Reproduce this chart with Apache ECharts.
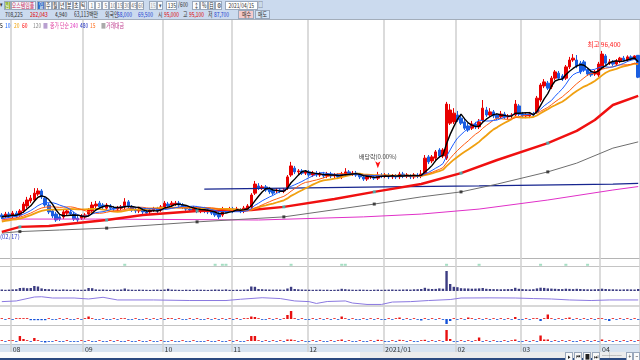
<!DOCTYPE html>
<html><head><meta charset="utf-8">
<script src="https://cdn.jsdelivr.net/npm/echarts@6/dist/echarts.min.js"></script>
<style>
html,body{margin:0;padding:0;background:#fff;}
#wrap{position:relative;width:640px;height:360px;overflow:hidden;font-family:"Noto Sans CJK KR","Noto Sans",sans-serif;}
#chart{position:absolute;left:0;top:0;width:640px;height:360px;z-index:2;}
.bg{position:absolute;z-index:1;}
.ov{position:absolute;z-index:3;font-size:7px;line-height:7px;white-space:nowrap;}
.ov span{display:inline-block;transform:scaleX(0.7);transform-origin:0 50%;}
.bx{box-sizing:border-box;height:9px;border:1px solid #9aa8bc;display:flex;justify-content:center;align-items:center;}
.bx span{transform-origin:50% 50%;}
</style></head>
<body><div id="wrap">
<div class="bg" style="left:0;top:344px;width:640px;height:8px;background:#d9e4f1;border-top:1px solid #b9c5d3;box-sizing:border-box;"></div>
<div class="bg" style="left:0;top:352px;width:640px;height:6px;background:#ececec;"></div>
<div class="bg" style="left:0;top:352px;width:360px;height:6px;background:#fbfbfb;"></div>
<div class="bg" style="left:0;top:358px;width:640px;height:2px;background:#2c4a80;"></div>
<div class="ov" style="left:0;top:0;width:640px;height:19px;background:#cbdaee;border-bottom:1px solid #a3adba;"></div>
<div id="chart"></div>
</div>
<script>
// ---------- DATA ----------
const monthStarts = [3, 23, 45, 64, 85, 106, 126, 144, 166];
const monthLabels = ['08', '09', '10', '11', '12', '2021/01', '02', '03', '04'];
const priorCloses = [40200,40500,40100,40800,41000,40700,41200,41500,41300,41800,42000,41700,42300,42600,42400,43000,43300,43100,43600];
// [open, close, low, high]
const candles = [
[43900,43300,42600,44500],[43600,44200,42900,44900],[44200,43600,42900,44900],[43600,44500,42900,45200],[44500,43600,42900,45200],
[43900,45200,43300,45800],[45200,47400,44500,48100],[46800,48700,46100,49700],[48400,49300,47700,50300],[48700,50900,48100,52500],
[50600,51600,50000,52500],[51600,49700,49000,52200],[49300,47100,46500,50000],[47100,44900,44200,47700],[45200,43600,42900,45800],
[44200,42300,41700,44900],[43300,42600,42000,43900],[43300,44900,42600,45500],[44500,45200,43900,45800],[44900,44200,43600,45500],
[44200,42600,42000,44900],[42900,42300,41700,43600],[42900,43600,42300,44200],[43300,43900,42600,44500],[44200,45500,43600,46100],
[45200,47100,44500,48100],[46800,47400,46100,48400],[47700,46500,45800,48400],[47100,46500,45800,47700],[46100,47100,45500,47700],
[46800,46100,45500,47400],[46100,45800,45200,46800],[45800,46100,45200,46800],[46100,46500,45500,47100],[46500,48100,45800,49300],
[48100,46800,46100,48700],[46500,45500,44900,47100],[45800,45200,44500,46500],[45200,45800,44500,46500],[45500,44900,44200,46100],
[44900,44500,43900,45500],[44900,45500,44200,46100],[45500,45800,44900,46500],[45800,45200,44500,46500],[45500,46500,44900,47100],
[46500,47700,45800,48400],[47400,46800,46100,48100],[47100,47700,46500,48400],[47400,47700,46800,48400],[47700,47100,46500,48400],
[47100,46500,45800,47700],[46500,45800,45200,47100],[45800,45500,44900,46500],[45500,46100,44900,46800],[46100,45200,44500,46800],
[45200,45800,44500,46500],[45800,45200,44500,46500],[45500,44900,44200,46100],[44900,44500,43900,45500],[44900,43900,43300,45500],
[44200,43300,42600,44900],[43900,45800,43300,46500],[45500,45200,44500,46100],[45500,45800,44900,46500],[45800,45200,44500,46500],
[45500,45800,44900,46500],[45500,45200,44500,46100],[45200,46100,44500,46800],[45800,46800,45200,47400],[46500,50300,45800,50900],
[50900,53800,50300,54800],[53200,52500,51900,54100],[52500,52900,51900,53500],[52900,51900,51300,53500],[52200,51300,50600,52900],
[51900,50900,50300,52500],[51600,51900,50900,52500],[51900,51600,50900,52500],[51600,51900,50900,52500],[52500,56100,51900,56700],
[56700,59600,56100,60900],[58900,57700,57000,59600],[57700,58000,57000,58600],[58000,57300,56700,58600],[57300,57700,56700,58300],
[57700,56700,56100,58300],[56700,57300,56100,58000],[57300,56700,56100,58000],[56700,57000,56100,57700],[57000,56400,55700,57700],
[56400,57000,55700,57700],[57000,56400,55700,57700],[56400,56700,55700,57300],[56700,56100,55400,57300],[56100,57000,55400,57700],
[57000,57700,56400,58900],[57700,57000,56400,58300],[57000,57300,56400,58000],[57300,56700,56100,58000],[56700,56100,55400,57300],
[56100,55400,54800,56700],[55400,56100,54800,56700],[56100,56400,55400,57000],[56100,55700,55100,56700],[55700,56700,55100,57700],
[56700,56400,55700,57300],[56400,56700,55700,57300],[56700,56100,55400,57300],[56100,56400,55400,57000],[56400,56100,55400,57000],
[56100,57000,55400,57700],[57000,56400,55700,57700],[56400,56700,55700,57300],[56400,56100,55400,57000],[56100,56700,55400,57300],
[56700,56400,55700,57300],[56400,57000,55700,58300],[57300,62100,56700,63100],[62500,60900,60200,63100],[61200,62500,60500,63100],
[62100,64100,61500,64700],[64700,62800,62100,65300],[62800,64700,62100,65300],[62100,79400,61500,80100],[73300,77500,72700,79400],
[73700,76500,73000,78100],[75900,74300,73700,77200],[74900,73300,72700,75900],[73700,71700,71100,74600],[72400,71100,70500,73300],
[71700,73000,71100,74000],[73000,72100,71400,73700],[72100,73700,71400,74600],[74300,78100,73700,80700],[77500,75900,75300,78500],
[75900,76900,75300,78100],[76900,75600,74900,77500],[75900,74900,74300,76500],[75300,76200,74600,77200],[76200,75300,74600,76900],
[75300,75600,74600,76200],[75600,75900,74900,76500],[75900,79400,75300,80700],[78800,76200,75600,79400],[76200,75600,74900,76900],
[75600,75900,74900,76500],[75600,76200,74900,76900],[76200,75900,75300,76900],[76900,81300,76200,82000],[80700,85500,80100,86100],
[85200,86500,84500,87400],[86100,84500,83900,86800],[84900,87700,84200,88400],[87700,89700,87100,90300],[89300,87700,87100,90000],
[88400,87400,86800,89000],[87700,91300,87100,91900],[91300,93500,90600,94500],[93500,94100,92900,95400],[93500,91600,90900,95100],
[92500,89700,89000,93200],[92900,90300,89700,93500],[90300,89000,88400,90900],[89700,88700,88100,90300],[89000,89700,88400,90300],
[88700,92200,88100,92900],[90900,95400,90300,96400],[94800,92500,91900,95400],[92500,92900,91900,93800],[92900,92200,91600,93500],
[92200,93200,91600,93800],[93200,94100,92500,94500],[94100,93500,92900,94800],[93500,94500,92900,95000],[94500,93800,93200,95000],
[93800,94800,93500,95000],[95000,88000,87700,95100]
];
const ma60Pts = [[0,38500],[5,40100],[13,40400],[29,42300],[39,43900],[54,45200],[69,45500],[78,46500],[92,49000],[103,51300],[116,53800],[127,57300],[137,61500],[151,66900],[159,70800],[164,74300],[169,79100],[176,82000]];
const ma120Pts = [[0,38100],[5,38600],[16,39100],[29,39700],[54,41700],[78,43300],[103,47400],[116,49700],[127,51300],[137,53800],[151,57700],[159,60500],[169,65300],[176,67300]];
const ma240Pts = [[0,42600],[26,42600],[71,42300],[100,43300],[116,44200],[132,45800],[151,48700],[169,51900],[176,53000]];
const ma480Pts = [[56,52200],[79,52500],[106,52900],[132,53200],[169,53800],[176,54000]];
// periodic markers drawn on the long averages (every 24 sessions)
const ma60Marks = [[5,40100],[29,42300],[54,45200],[78,46500],[103,51300],[127,57300],[151,66900]];
const ma120Marks = [[5,38600],[29,39700],[54,41700],[78,43300],[103,47400],[127,51300],[151,57700]];
const volume = [
150,120,140,160,180,300,320,280,300,500,
450,260,200,180,160,150,130,160,140,120,
150,130,120,140,300,280,160,140,150,130,
120,140,130,150,250,150,130,120,140,130,
120,110,130,140,120,150,220,140,130,120,
110,130,120,110,140,130,120,110,130,150,
140,130,160,120,110,130,120,140,160,450,
420,200,180,160,150,140,150,140,130,250,
420,200,170,150,140,130,120,130,140,120,
130,110,120,140,220,180,150,130,120,140,
130,120,110,130,140,120,130,140,150,130,
140,150,160,140,170,180,200,320,220,200,
210,260,230,2000,700,420,380,280,260,250,
230,240,260,300,220,200,190,180,170,180,
190,200,320,220,190,170,160,180,260,330,
310,260,240,220,200,190,230,210,190,220,
200,180,170,160,170,190,230,200,180,170,
160,150,160,170,160,150,200];
const oscPts = [[0,24],[4,29],[9,57],[11,59],[14,50],[20,50],[24,43],[28,55],[32,36],[42,36],[52,32],[62,32],[66,41],[72,52],[77,46],[81,29],[85,24],[87,11],[90,25],[95,29],[97,14],[101,4],[105,4],[108,21],[113,24],[118,32],[124,39],[127,50],[135,51],[142,50],[147,46],[152,43],[157,36],[163,32],[168,36],[176,36]];
const foreignNet = [
0.8,-0.8,0.8,-0.8,0.8,0.8,0.8,0.8,-1.2,-1.2,-1.2,-1.2,-1.2,0.8,-0.8,-0.8,0.8,-0.8,0.8,-0.8,
-0.8,0.8,-0.8,0.8,2.5,0.8,-0.8,-0.8,0.8,-0.8,-0.8,0.8,-0.8,0.8,0.8,-0.8,-0.8,0.8,-0.8,-0.8,
0.8,-0.8,0.8,-0.8,0.8,-0.8,0.8,0.8,-0.8,0.8,-0.8,-0.8,0.8,-0.8,0.8,-0.8,-0.8,0.8,-0.8,0.8,
-0.8,0.8,-0.8,0.8,-0.8,0.8,-0.8,0.8,0.8,2.5,2,0.8,-0.8,-0.8,0.8,-0.8,0.8,-0.8,0.8,4,
8,0.8,-0.8,0.8,-0.8,-0.8,0.8,-0.8,0.8,-0.8,0.8,-0.8,0.8,-0.8,2.5,0.8,-0.8,0.8,-0.8,-0.8,
0.8,-0.8,0.8,-0.8,0.8,-0.8,-0.8,0.8,-0.8,0.8,1.5,-0.8,0.8,-0.8,0.8,-0.8,-1.5,0.8,-0.8,0.8,
-0.8,0.8,-0.8,-5,-2,0.8,-0.8,0.8,-0.8,1.5,0.8,-0.8,0.8,-0.8,0.8,-0.8,0.8,-0.8,0.8,-0.8,
0.8,-0.8,2,-0.8,-0.8,0.8,-0.8,0.8,0.8,-2,0.8,4.5,0.8,-0.8,0.8,-0.8,0.8,1.5,-0.8,0.8,
-0.8,0.8,-0.8,0.8,-0.8,0.8,0.8,-0.8,-2,0.8,-0.8,0.8,-0.8,0.8,-0.8,0.8,-0.8];
const instNet = [
0.8,-0.8,0.8,0.8,-0.8,5,2,0.8,-0.8,3,0.8,-0.8,-1.5,-0.8,-0.8,0.8,-0.8,-0.8,0.8,-0.8,
-0.8,-0.8,0.8,-0.8,0.8,-0.8,-0.8,0.8,-0.8,-0.8,0.8,-0.8,0.8,-0.8,-0.8,0.8,-0.8,-0.8,0.8,-0.8,
-0.8,0.8,-0.8,-0.8,0.8,-0.8,-0.8,0.8,-0.8,-0.8,0.8,-0.8,-0.8,0.8,-0.8,-0.8,-0.8,0.8,-0.8,-0.8,
0.8,-0.8,-0.8,0.8,-0.8,0.8,-0.8,-0.8,0.8,5,5,0.8,-0.8,0.8,-0.8,0.8,-0.8,0.8,-0.8,1.5,
1.5,0.8,-0.8,0.8,-0.8,-0.8,0.8,-0.8,0.8,-0.8,-0.8,0.8,-0.8,0.8,1.5,-0.8,0.8,-0.8,-0.8,0.8,
-0.8,-0.8,0.8,-0.8,1.2,0.8,-0.8,-0.8,0.8,-0.8,1.2,0.8,-0.8,0.8,-0.8,-0.8,0.8,1.2,-0.8,0.8,
-0.8,0.8,-0.8,11,2,-0.8,-0.8,0.8,-0.8,0.8,-0.8,0.8,3.5,-0.8,0.8,-0.8,0.8,-0.8,-0.8,0.8,
-0.8,0.8,1.5,-0.8,-0.8,0.8,-0.8,0.8,-0.8,5.5,1.5,1.5,-0.8,0.8,-0.8,0.8,-0.8,0.8,-0.8,-0.8,
0.8,-0.8,0.8,-0.8,0.8,-0.8,1.5,-0.8,0.8,-0.8,0.8,-0.8,0.8,-0.8,0.8,-0.8,0.8];
const signalIdx = [34, 59, 61, 62, 80, 94, 95, 123, 132, 149, 156, 162];

// ---------- TOOLBAR (text only) ----------
const wrap = document.getElementById('wrap');
function addBox(x, y, w, text, bg, color, boxed) {
  const d = document.createElement('div');
  d.className = 'ov' + (boxed ? ' bx' : '');
  d.style.left = x + 'px'; d.style.top = y + 'px';
  if (w) d.style.width = w + 'px';
  if (bg) d.style.background = bg;
  d.style.color = color || '#333';
  const s = document.createElement('span');
  s.textContent = text;
  d.appendChild(s);
  wrap.appendChild(d);
}
const row1 = [
  [0,4,'▾',null,'#333',false],[4,7,'님','#93b43c','#fff',true],[11,25,'오스템임플','#f3f6fb','#c8285a',true],
  [37,8,'일','#2e6bc6','#fff',true],[45,7,'주','#fbfcfe','#333',true],[52,7,'월','#fbfcfe','#333',true],[59,7,'년','#fbfcfe','#333',true],
  [66,7,'분','#fbfcfe','#333',true],[73,7,'초','#fbfcfe','#333',true],[80,7,'틱','#fbfcfe','#333',true],
  [88,7,'1','#fbfcfe','#777',true],[95,7,'3','#fbfcfe','#777',true],[102,7,'5','#fbfcfe','#777',true],[109,7,'10','#fbfcfe','#777',true],
  [116,7,'15','#fbfcfe','#777',true],[123,7,'30','#fbfcfe','#777',true],[130,7,'45','#fbfcfe','#777',true],[137,7,'60','#fbfcfe','#777',true],
  [149,8,'15','#eef2f7','#aaa',true],[157,6,'▾','#fbfcfe','#555',true],[166,11,'135','#fff','#333',true],[178,12,'/600',null,'#333',false],
  [192,8,'↕','#fbfcfe','#333',true],[200,8,'%','#fbfcfe','#333',true],[208,7,'目','#fbfcfe','#333',true],[215,7,'⚙','#fbfcfe','#333',true],
  [225,33,'2021/04/15','#fff','#333',true],[258,6,'□',null,'#333',false]
];
row1.forEach(r => addBox(r[0], 1, r[1], r[2], r[3], r[4], r[5]));
const row2 = [
  [5,'708,225','#333'],[30,'262,043','#e00000'],[55,'4,940','#333'],[74,'63,113백만','#333'],[105,'외국인','#333'],
  [117,'58,000','#2040d0'],[138,'69,500','#2040d0'],[158,'시','#333'],[164,'95,000','#e00000'],[183,'고','#333'],
  [189,'95,100','#e00000'],[208,'저','#333'],[214,'87,700','#2040d0']
];
row2.forEach(r => addBox(r[0], 11, null, r[1], null, r[2], false));
addBox(238, 10, 16, '매수', '#f5caca', '#333', true);
addBox(255, 10, 15, '매도', '#d4e4f6', '#333', true);
const legendRow = [
  [0,'5','#000'],[5,'10','#1060ff'],[14,'20','#f0a000'],[22,'60','#ff0000'],[33,'120','#888'],[43,'■','#b9a0d0'],
  [50,'종가 단순','#e040a0'],[70,'240','#e040c0'],[80,'480','#2030c0'],[90,'15','#ff7020'],[101,'■','#aaa'],[106,'거래대금','#c04090']
];
legendRow.forEach(r => addBox(r[0], 22, null, r[1], null, r[2], false));
// bottom controls
[[565,'▸'],[574,'⏮'],[583,'■'],[592,'⏭']].forEach(r => addBox(r[0], 352, 8, r[1], '#fafafa', '#222', true));
addBox(602, 352, 22, '─┼──', null, '#555', false);
addBox(626, 352, 7, '+', '#fafafa', '#333', true);
addBox(633, 352, 7, '−', '#fafafa', '#333', true);

// ---------- CHART ----------
const cats = candles.map((c, i) => String(i));
const allCloses = priorCloses.concat(candles.map(c => c[1]));
function movingAvg(n) {
  const off = priorCloses.length;
  return candles.map((c, i) => {
    let s = 0;
    for (let k = 0; k < n; k++) s += allCloses[off + i - k];
    return Math.round(s / n);
  });
}
const isMonth = (idx) => monthStarts.indexOf(idx) >= 0;
const GL = -1, GW = 669;
const grids = [
  {left: GL, width: GW, top: 20, height: 238},
  {left: GL, width: GW, top: 258, height: 8},
  {left: GL, width: GW, top: 266, height: 25},
  {left: GL, width: GW, top: 291, height: 14},
  {left: GL, width: GW, top: 306, height: 19},
  {left: GL, width: GW, top: 325, height: 19},
  {left: GL, width: GW, top: 20, height: 332}
];
const xAxes = grids.map((g, gi) => ({
  type: 'category', gridIndex: gi, data: cats, boundaryGap: true,
  axisLine: {show: false}, axisTick: {show: false},
  axisLabel: gi === 5 ? {
    show: true, interval: (idx) => isMonth(idx), align: 'left', margin: 2,
    fontSize: 7, color: '#333', fontFamily: 'Noto Sans CJK KR',
    formatter: (v, idx) => monthLabels[monthStarts.indexOf(Number(v))] || ''
  } : {show: false},
  splitLine: gi === 6 ? {show: true, interval: (idx) => isMonth(idx), lineStyle: {color: '#d2d2d2', width: 1.6}} : {show: false}
}));
const yRanges = [[30140,106300],[0,1],[0,2500],[0,100],[-6,13],[-3,16],[0,1]];
const yAxes = yRanges.map((r, gi) => ({type: 'value', gridIndex: gi, min: r[0], max: r[1], show: false, splitLine: {show: false}}));

function lineSeries(data, color, width, z) {
  return {type: 'line', xAxisIndex: 0, yAxisIndex: 0, data: data, showSymbol: false, symbol: 'none',
    lineStyle: {color: color, width: width}, itemStyle: {color: color}, z: z || 4, silent: true};
}
function dotSeries(data, color) {
  return {type: 'scatter', xAxisIndex: 0, yAxisIndex: 0, data: data, symbol: 'rect', symbolSize: 3,
    itemStyle: {color: color}, z: 7, silent: true};
}
const netColor = (p) => p.value > 0 ? '#e81010' : '#1552d8';

const option = {
  animation: false,
  grid: grids,
  xAxis: xAxes,
  yAxis: yAxes,
  graphic: [
    {type: 'line', shape: {x1: 0, y1: 258.5, x2: 640, y2: 258.5}, style: {stroke: '#b4b4b4', lineWidth: 1}},
    {type: 'line', shape: {x1: 0, y1: 266.5, x2: 640, y2: 266.5}, style: {stroke: '#c4c4c4', lineWidth: 1}},
    {type: 'rect', shape: {x: 0, y: 305, width: 640, height: 2}, style: {fill: '#d8d8d8'}},
    {type: 'line', shape: {x1: 0, y1: 325.5, x2: 640, y2: 325.5}, style: {stroke: '#c4c4c4', lineWidth: 1}},
    {type: 'text', left: 0, top: 234, style: {text: '(02/17)', fill: '#3344cc', fontSize: 6, fontFamily: 'Noto Sans CJK KR'}}
  ],
  series: [
    {type: 'candlestick', xAxisIndex: 0, yAxisIndex: 0, data: candles, barWidth: 3, z: 3,
      itemStyle: {color: '#e80000', color0: '#1a5ee0', borderColor: '#e80000', borderColor0: '#1a5ee0', borderWidth: 1},
      markPoint: {symbol: 'circle', symbolSize: 0, animation: false, data: [
        {coord: [166, 96400], symbolSize: 0, label: {show: true, position: 'top', distance: 3, offset: [2, 0], formatter: '최고 96,400', color: '#ff2020', fontSize: 6.5, fontFamily: 'Noto Sans CJK KR'}},
        {coord: [104, 58900], symbol: 'arrow', symbolRotate: 180, symbolSize: [4, 7], itemStyle: {color: '#ff1010'},
          label: {show: true, position: 'top', distance: 1, formatter: '배당락(0.00%)', color: '#444', fontSize: 6, fontFamily: 'Noto Sans CJK KR'}}
      ]}
    },
    lineSeries(ma480Pts, '#16258f', 1.2, 4),
    lineSeries(ma240Pts, '#e030c8', 1, 4),
    lineSeries(ma120Pts, '#6e6e6e', 1, 4),
    lineSeries(ma60Pts, '#f01010', 2.5, 4),
    lineSeries(movingAvg(20), '#f0a010', 1.8, 5),
    lineSeries(movingAvg(15), '#ff5a10', 1, 5),
    lineSeries(movingAvg(10), '#1a5cff', 1, 5),
    lineSeries(movingAvg(5), '#000000', 1.4, 6),
    dotSeries(ma120Marks, '#202020'),
    dotSeries(ma60Marks, '#2fc4c4'),
    {type: 'scatter', xAxisIndex: 1, yAxisIndex: 1, data: signalIdx.map(i => [i, 0.15]), symbol: 'rect', symbolSize: [3, 2], itemStyle: {color: '#8fd6b4'}, silent: true},
    {type: 'bar', xAxisIndex: 2, yAxisIndex: 2, data: volume, barWidth: 2.4, itemStyle: {color: '#3c3c82'}, silent: true},
    {type: 'line', xAxisIndex: 3, yAxisIndex: 3, data: oscPts, showSymbol: false, symbol: 'none', lineStyle: {color: '#8a78e0', width: 1}, silent: true},
    {type: 'bar', xAxisIndex: 4, yAxisIndex: 4, data: foreignNet, barWidth: 2.4, itemStyle: {color: netColor}, silent: true},
    {type: 'bar', xAxisIndex: 5, yAxisIndex: 5, data: instNet, barWidth: 2.4, itemStyle: {color: netColor}, silent: true}
  ]
};
const chart = echarts.init(document.getElementById('chart'), null, {renderer: 'canvas'});
chart.setOption(option);
</script>
</body></html>
